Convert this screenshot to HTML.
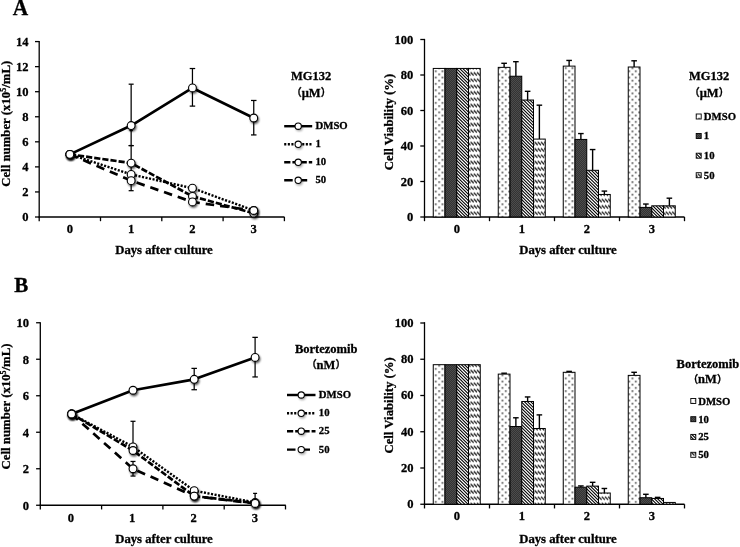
<!DOCTYPE html>
<html lang="en"><head><meta charset="utf-8"><title>Figure</title>
<style>
html,body{margin:0;padding:0;background:#fff;}
body{width:740px;height:547px;overflow:hidden;}
svg{display:block;}
svg text{font-family:"Liberation Serif","Noto Sans CJK JP",serif;font-weight:bold;fill:#000;stroke:#000;stroke-width:0.3px;}
</style></head><body>
<svg width="740" height="547" viewBox="0 0 740 547">
<defs>
<filter id="sh" x="-50%" y="-50%" width="200%" height="200%"><feGaussianBlur stdDeviation="0.9"/></filter>
<pattern id="p1" width="20" height="19" patternUnits="userSpaceOnUse" patternTransform="translate(1.4 0.4)"><rect width="20" height="19" fill="#fff"/><g fill="#000"><rect x="0.40" y="0.50" width="1.4" height="1.4"/><rect x="3.73" y="3.67" width="1.4" height="1.4"/><rect x="0.40" y="6.83" width="1.4" height="1.4"/><rect x="3.73" y="10.00" width="1.4" height="1.4"/><rect x="0.40" y="13.17" width="1.4" height="1.4"/><rect x="3.73" y="16.33" width="1.4" height="1.4"/><rect x="7.07" y="0.50" width="1.4" height="1.4"/><rect x="10.40" y="3.67" width="1.4" height="1.4"/><rect x="7.07" y="6.83" width="1.4" height="1.4"/><rect x="10.40" y="10.00" width="1.4" height="1.4"/><rect x="7.07" y="13.17" width="1.4" height="1.4"/><rect x="10.40" y="16.33" width="1.4" height="1.4"/><rect x="13.73" y="0.50" width="1.4" height="1.4"/><rect x="17.07" y="3.67" width="1.4" height="1.4"/><rect x="13.73" y="6.83" width="1.4" height="1.4"/><rect x="17.07" y="10.00" width="1.4" height="1.4"/><rect x="13.73" y="13.17" width="1.4" height="1.4"/><rect x="17.07" y="16.33" width="1.4" height="1.4"/></g></pattern>
<pattern id="p2" width="2" height="2" patternUnits="userSpaceOnUse"><rect width="2" height="2" fill="#333"/><rect width="1" height="1" fill="#4c4c4c"/><rect x="1" y="1" width="1" height="1" fill="#4c4c4c"/></pattern>
<pattern id="p3" width="16" height="19" patternUnits="userSpaceOnUse"><rect width="16" height="19" fill="#fff"/><path d="M-25.60,-3.17 L0.00,22.17 M-22.40,-3.17 L3.20,22.17 M-19.20,-3.17 L6.40,22.17 M-16.00,-3.17 L9.60,22.17 M-12.80,-3.17 L12.80,22.17 M-9.60,-3.17 L16.00,22.17 M-6.40,-3.17 L19.20,22.17 M-3.20,-3.17 L22.40,22.17 M0.00,-3.17 L25.60,22.17 M3.20,-3.17 L28.80,22.17 M6.40,-3.17 L32.00,22.17 M9.60,-3.17 L35.20,22.17 M12.80,-3.17 L38.40,22.17" stroke="#000" stroke-width="1.1" fill="none"/></pattern>
<pattern id="p4" width="16" height="19" patternUnits="userSpaceOnUse" patternTransform="translate(0 1.6)"><rect width="16" height="19" fill="#fff"/><path d="M-3.00,1.10 L0.10,4.20 M0.20,1.10 L3.30,4.20 M3.40,1.10 L6.50,4.20 M6.60,1.10 L9.70,4.20 M9.80,1.10 L12.90,4.20 M13.00,1.10 L16.10,4.20 M16.20,1.10 L19.30,4.20 M-3.00,7.43 L0.10,10.53 M0.20,7.43 L3.30,10.53 M3.40,7.43 L6.50,10.53 M6.60,7.43 L9.70,10.53 M9.80,7.43 L12.90,10.53 M13.00,7.43 L16.10,10.53 M16.20,7.43 L19.30,10.53 M-3.00,13.77 L0.10,16.87 M0.20,13.77 L3.30,16.87 M3.40,13.77 L6.50,16.87 M6.60,13.77 L9.70,16.87 M9.80,13.77 L12.90,16.87 M13.00,13.77 L16.10,16.87 M16.20,13.77 L19.30,16.87" stroke="#000" stroke-width="1.2" fill="none"/></pattern>
</defs>
<rect width="740" height="547" fill="#fff"/>

<text transform="translate(12.8 15.1) scale(0.93 1)" font-size="23" text-anchor="start">A</text>
<text transform="translate(14.2 291.5) scale(1.04 1)" font-size="20.2" text-anchor="start">B</text>
<line x1="39.20" y1="41.00" x2="39.20" y2="217.60" stroke="#000" stroke-width="1.3" />
<line x1="38.60" y1="217.00" x2="284.50" y2="217.00" stroke="#000" stroke-width="1.3" />
<line x1="35.00" y1="217.00" x2="39.20" y2="217.00" stroke="#000" stroke-width="1.3" />
<text transform="translate(28.6 221.40) scale(0.93 1)" font-size="13.5" text-anchor="end">0</text>
<line x1="35.00" y1="191.94" x2="39.20" y2="191.94" stroke="#000" stroke-width="1.3" />
<text transform="translate(28.6 196.34) scale(0.93 1)" font-size="13.5" text-anchor="end">2</text>
<line x1="35.00" y1="166.88" x2="39.20" y2="166.88" stroke="#000" stroke-width="1.3" />
<text transform="translate(28.6 171.28) scale(0.93 1)" font-size="13.5" text-anchor="end">4</text>
<line x1="35.00" y1="141.82" x2="39.20" y2="141.82" stroke="#000" stroke-width="1.3" />
<text transform="translate(28.6 146.22) scale(0.93 1)" font-size="13.5" text-anchor="end">6</text>
<line x1="35.00" y1="116.76" x2="39.20" y2="116.76" stroke="#000" stroke-width="1.3" />
<text transform="translate(28.6 121.16) scale(0.93 1)" font-size="13.5" text-anchor="end">8</text>
<line x1="35.00" y1="91.70" x2="39.20" y2="91.70" stroke="#000" stroke-width="1.3" />
<text transform="translate(28.6 96.10) scale(0.93 1)" font-size="13.5" text-anchor="end">10</text>
<line x1="35.00" y1="66.64" x2="39.20" y2="66.64" stroke="#000" stroke-width="1.3" />
<text transform="translate(28.6 71.04) scale(0.93 1)" font-size="13.5" text-anchor="end">12</text>
<line x1="35.00" y1="41.58" x2="39.20" y2="41.58" stroke="#000" stroke-width="1.3" />
<text transform="translate(28.6 45.98) scale(0.93 1)" font-size="13.5" text-anchor="end">14</text>
<line x1="39.20" y1="217.00" x2="39.20" y2="221.20" stroke="#000" stroke-width="1.3" />
<line x1="100.50" y1="217.00" x2="100.50" y2="221.20" stroke="#000" stroke-width="1.3" />
<line x1="161.80" y1="217.00" x2="161.80" y2="221.20" stroke="#000" stroke-width="1.3" />
<line x1="223.10" y1="217.00" x2="223.10" y2="221.20" stroke="#000" stroke-width="1.3" />
<line x1="284.40" y1="217.00" x2="284.40" y2="221.20" stroke="#000" stroke-width="1.3" />
<text transform="translate(69.85 233.4) scale(0.93 1)" font-size="13.5" text-anchor="middle">0</text>
<text transform="translate(131.15 233.4) scale(0.93 1)" font-size="13.5" text-anchor="middle">1</text>
<text transform="translate(192.45 233.4) scale(0.93 1)" font-size="13.5" text-anchor="middle">2</text>
<text transform="translate(253.75 233.4) scale(0.93 1)" font-size="13.5" text-anchor="middle">3</text>
<line x1="131.15" y1="84.18" x2="131.15" y2="190.69" stroke="#000" stroke-width="1.25" />
<line x1="128.65" y1="84.18" x2="133.65" y2="84.18" stroke="#000" stroke-width="1.25" />
<line x1="128.65" y1="190.69" x2="133.65" y2="190.69" stroke="#000" stroke-width="1.25" />
<line x1="131.15" y1="145.58" x2="131.15" y2="145.58" stroke="#000" stroke-width="1.25" />
<line x1="128.65" y1="145.58" x2="133.65" y2="145.58" stroke="#000" stroke-width="1.25" />
<line x1="128.65" y1="145.58" x2="133.65" y2="145.58" stroke="#000" stroke-width="1.25" />
<line x1="131.15" y1="130.54" x2="131.15" y2="130.54" stroke="#000" stroke-width="1.25" />
<line x1="129.65" y1="130.54" x2="132.65" y2="130.54" stroke="#000" stroke-width="1.25" />
<line x1="129.65" y1="130.54" x2="132.65" y2="130.54" stroke="#000" stroke-width="1.25" />
<line x1="192.45" y1="68.52" x2="192.45" y2="106.11" stroke="#000" stroke-width="1.25" />
<line x1="189.70" y1="68.52" x2="195.20" y2="68.52" stroke="#000" stroke-width="1.25" />
<line x1="189.70" y1="106.11" x2="195.20" y2="106.11" stroke="#000" stroke-width="1.25" />
<line x1="253.75" y1="100.47" x2="253.75" y2="134.93" stroke="#000" stroke-width="1.25" />
<line x1="251.00" y1="100.47" x2="256.50" y2="100.47" stroke="#000" stroke-width="1.25" />
<line x1="251.00" y1="134.93" x2="256.50" y2="134.93" stroke="#000" stroke-width="1.25" />
<polyline points="69.85,154.35 131.15,174.40 192.45,188.18 253.75,210.48" fill="none" stroke="#000" stroke-width="2.4" stroke-linejoin="round" stroke-dasharray="2.1 1.5"/>
<polyline points="69.85,154.35 131.15,163.12 192.45,196.33 253.75,213.24" fill="none" stroke="#000" stroke-width="2.7" stroke-linejoin="round" stroke-dasharray="6.2 2"/>
<polyline points="69.85,154.35 131.15,180.66 192.45,201.96 253.75,210.48" fill="none" stroke="#000" stroke-width="2.7" stroke-linejoin="round" stroke-dasharray="8.5 6"/>
<polyline points="69.85,154.35 131.15,125.53 192.45,87.94 253.75,118.01" fill="none" stroke="#000" stroke-width="2.7" stroke-linejoin="round" />
<circle cx="70.85" cy="155.95" r="4.3" fill="#000" opacity="0.7" filter="url(#sh)"/>
<circle cx="69.85" cy="154.35" r="3.9" fill="#fff" stroke="#000" stroke-width="1.1"/>
<circle cx="132.15" cy="176.00" r="4.3" fill="#000" opacity="0.7" filter="url(#sh)"/>
<circle cx="131.15" cy="174.40" r="3.9" fill="#fff" stroke="#000" stroke-width="1.1"/>
<circle cx="193.45" cy="189.78" r="4.3" fill="#000" opacity="0.7" filter="url(#sh)"/>
<circle cx="192.45" cy="188.18" r="3.9" fill="#fff" stroke="#000" stroke-width="1.1"/>
<circle cx="254.75" cy="212.08" r="4.3" fill="#000" opacity="0.7" filter="url(#sh)"/>
<circle cx="253.75" cy="210.48" r="3.9" fill="#fff" stroke="#000" stroke-width="1.1"/>
<circle cx="70.85" cy="155.95" r="4.3" fill="#000" opacity="0.7" filter="url(#sh)"/>
<circle cx="69.85" cy="154.35" r="3.9" fill="#fff" stroke="#000" stroke-width="1.1"/>
<circle cx="132.15" cy="164.72" r="4.3" fill="#000" opacity="0.7" filter="url(#sh)"/>
<circle cx="131.15" cy="163.12" r="3.9" fill="#fff" stroke="#000" stroke-width="1.1"/>
<circle cx="193.45" cy="197.93" r="4.3" fill="#000" opacity="0.7" filter="url(#sh)"/>
<circle cx="192.45" cy="196.33" r="3.9" fill="#fff" stroke="#000" stroke-width="1.1"/>
<circle cx="254.75" cy="214.84" r="4.3" fill="#000" opacity="0.7" filter="url(#sh)"/>
<circle cx="253.75" cy="213.24" r="3.9" fill="#fff" stroke="#000" stroke-width="1.1"/>
<circle cx="70.85" cy="155.95" r="4.3" fill="#000" opacity="0.7" filter="url(#sh)"/>
<circle cx="69.85" cy="154.35" r="3.9" fill="#fff" stroke="#000" stroke-width="1.1"/>
<circle cx="132.15" cy="182.26" r="4.3" fill="#000" opacity="0.7" filter="url(#sh)"/>
<circle cx="131.15" cy="180.66" r="3.9" fill="#fff" stroke="#000" stroke-width="1.1"/>
<circle cx="193.45" cy="203.56" r="4.3" fill="#000" opacity="0.7" filter="url(#sh)"/>
<circle cx="192.45" cy="201.96" r="3.9" fill="#fff" stroke="#000" stroke-width="1.1"/>
<circle cx="254.75" cy="212.08" r="4.3" fill="#000" opacity="0.7" filter="url(#sh)"/>
<circle cx="253.75" cy="210.48" r="3.9" fill="#fff" stroke="#000" stroke-width="1.1"/>
<circle cx="70.85" cy="155.95" r="4.3" fill="#000" opacity="0.7" filter="url(#sh)"/>
<circle cx="69.85" cy="154.35" r="3.9" fill="#fff" stroke="#000" stroke-width="1.1"/>
<circle cx="132.15" cy="127.13" r="4.3" fill="#000" opacity="0.7" filter="url(#sh)"/>
<circle cx="131.15" cy="125.53" r="3.9" fill="#fff" stroke="#000" stroke-width="1.1"/>
<circle cx="193.45" cy="89.54" r="4.3" fill="#000" opacity="0.7" filter="url(#sh)"/>
<circle cx="192.45" cy="87.94" r="3.9" fill="#fff" stroke="#000" stroke-width="1.1"/>
<circle cx="254.75" cy="119.61" r="4.3" fill="#000" opacity="0.7" filter="url(#sh)"/>
<circle cx="253.75" cy="118.01" r="3.9" fill="#fff" stroke="#000" stroke-width="1.1"/>
<line x1="284.2" y1="126.2" x2="312.2" y2="126.2" stroke="#000" stroke-width="2.45" />
<circle cx="299.20" cy="127.80" r="3.55" fill="#000" opacity="0.35" filter="url(#sh)"/>
<circle cx="298.20" cy="126.20" r="3.15" fill="#fff" stroke="#000" stroke-width="1.1"/>
<text transform="translate(315.5 129.3) scale(0.95 1)" font-size="11.3" text-anchor="start">DMSO</text>
<line x1="284.2" y1="144.3" x2="312.2" y2="144.3" stroke="#000" stroke-width="2.45" stroke-dasharray="2.1 1.5"/>
<circle cx="299.20" cy="145.90" r="3.55" fill="#000" opacity="0.35" filter="url(#sh)"/>
<circle cx="298.20" cy="144.30" r="3.15" fill="#fff" stroke="#000" stroke-width="1.1"/>
<text transform="translate(315.5 147.4) scale(0.95 1)" font-size="11.3" text-anchor="start">1</text>
<line x1="284.2" y1="162.3" x2="312.2" y2="162.3" stroke="#000" stroke-width="2.45" stroke-dasharray="6.2 2"/>
<circle cx="299.20" cy="163.90" r="3.55" fill="#000" opacity="0.35" filter="url(#sh)"/>
<circle cx="298.20" cy="162.30" r="3.15" fill="#fff" stroke="#000" stroke-width="1.1"/>
<text transform="translate(315.5 165.4) scale(0.95 1)" font-size="11.3" text-anchor="start">10</text>
<line x1="284.2" y1="180.3" x2="312.2" y2="180.3" stroke="#000" stroke-width="2.45" stroke-dasharray="8.5 6"/>
<circle cx="299.20" cy="181.90" r="3.55" fill="#000" opacity="0.35" filter="url(#sh)"/>
<circle cx="298.20" cy="180.30" r="3.15" fill="#fff" stroke="#000" stroke-width="1.1"/>
<text transform="translate(315.5 183.4) scale(0.95 1)" font-size="11.3" text-anchor="start">50</text>
<text transform="translate(9.6 123.8) rotate(-90)" font-size="12.6" text-anchor="middle" textLength="126" lengthAdjust="spacingAndGlyphs">Cell number (x10<tspan font-size="7.8" dy="-3.6">5</tspan><tspan dy="3.6">/mL)</tspan></text>
<text x="164" y="253.6" font-size="12.6" text-anchor="middle" textLength="97.5" lengthAdjust="spacingAndGlyphs">Days after culture</text>
<text transform="translate(311.2 80.3) scale(0.95 1)" font-size="13.2" text-anchor="middle">MG132</text>
<text transform="translate(311.2 96.6) scale(0.95 1)" font-size="13.2" text-anchor="middle"><tspan font-size="10.5" dy="-0.6">（</tspan><tspan dy="0.6">μM</tspan><tspan font-size="10.5" dy="-0.6">）</tspan></text>
<line x1="40.30" y1="322.15" x2="40.30" y2="505.85" stroke="#000" stroke-width="1.3" />
<line x1="39.70" y1="505.25" x2="285.80" y2="505.25" stroke="#000" stroke-width="1.3" />
<line x1="36.10" y1="505.25" x2="40.30" y2="505.25" stroke="#000" stroke-width="1.3" />
<text transform="translate(29 509.65) scale(0.93 1)" font-size="13.5" text-anchor="end">0</text>
<line x1="36.10" y1="468.75" x2="40.30" y2="468.75" stroke="#000" stroke-width="1.3" />
<text transform="translate(29 473.15) scale(0.93 1)" font-size="13.5" text-anchor="end">2</text>
<line x1="36.10" y1="432.25" x2="40.30" y2="432.25" stroke="#000" stroke-width="1.3" />
<text transform="translate(29 436.65) scale(0.93 1)" font-size="13.5" text-anchor="end">4</text>
<line x1="36.10" y1="395.75" x2="40.30" y2="395.75" stroke="#000" stroke-width="1.3" />
<text transform="translate(29 400.15) scale(0.93 1)" font-size="13.5" text-anchor="end">6</text>
<line x1="36.10" y1="359.25" x2="40.30" y2="359.25" stroke="#000" stroke-width="1.3" />
<text transform="translate(29 363.65) scale(0.93 1)" font-size="13.5" text-anchor="end">8</text>
<line x1="36.10" y1="322.75" x2="40.30" y2="322.75" stroke="#000" stroke-width="1.3" />
<text transform="translate(29 327.15) scale(0.93 1)" font-size="13.5" text-anchor="end">10</text>
<line x1="40.30" y1="505.25" x2="40.30" y2="509.45" stroke="#000" stroke-width="1.3" />
<line x1="101.60" y1="505.25" x2="101.60" y2="509.45" stroke="#000" stroke-width="1.3" />
<line x1="162.90" y1="505.25" x2="162.90" y2="509.45" stroke="#000" stroke-width="1.3" />
<line x1="224.20" y1="505.25" x2="224.20" y2="509.45" stroke="#000" stroke-width="1.3" />
<line x1="285.50" y1="505.25" x2="285.50" y2="509.45" stroke="#000" stroke-width="1.3" />
<text transform="translate(70.95 521.75) scale(0.93 1)" font-size="13.5" text-anchor="middle">0</text>
<text transform="translate(132.25 521.75) scale(0.93 1)" font-size="13.5" text-anchor="middle">1</text>
<text transform="translate(193.55 521.75) scale(0.93 1)" font-size="13.5" text-anchor="middle">2</text>
<text transform="translate(254.85 521.75) scale(0.93 1)" font-size="13.5" text-anchor="middle">3</text>
<line x1="133.00" y1="421.30" x2="133.00" y2="446.85" stroke="#000" stroke-width="1.25" />
<line x1="130.50" y1="421.30" x2="135.50" y2="421.30" stroke="#000" stroke-width="1.25" />
<line x1="130.50" y1="446.85" x2="135.50" y2="446.85" stroke="#000" stroke-width="1.25" />
<line x1="133.00" y1="461.45" x2="133.00" y2="476.05" stroke="#000" stroke-width="1.25" />
<line x1="130.50" y1="461.45" x2="135.50" y2="461.45" stroke="#000" stroke-width="1.25" />
<line x1="130.50" y1="476.05" x2="135.50" y2="476.05" stroke="#000" stroke-width="1.25" />
<line x1="194.20" y1="368.38" x2="194.20" y2="389.73" stroke="#000" stroke-width="1.25" />
<line x1="191.45" y1="368.38" x2="196.95" y2="368.38" stroke="#000" stroke-width="1.25" />
<line x1="191.45" y1="389.73" x2="196.95" y2="389.73" stroke="#000" stroke-width="1.25" />
<line x1="255.10" y1="337.35" x2="255.10" y2="376.95" stroke="#000" stroke-width="1.25" />
<line x1="252.35" y1="337.35" x2="257.85" y2="337.35" stroke="#000" stroke-width="1.25" />
<line x1="252.35" y1="376.95" x2="257.85" y2="376.95" stroke="#000" stroke-width="1.25" />
<line x1="255.10" y1="493.39" x2="255.10" y2="503.43" stroke="#000" stroke-width="1.25" />
<line x1="253.10" y1="493.39" x2="257.10" y2="493.39" stroke="#000" stroke-width="1.25" />
<line x1="253.10" y1="503.43" x2="257.10" y2="503.43" stroke="#000" stroke-width="1.25" />
<polyline points="71.60,414.00 133.00,446.85 194.20,490.65 255.10,502.51" fill="none" stroke="#000" stroke-width="2.4" stroke-linejoin="round" stroke-dasharray="2.1 1.5"/>
<polyline points="71.60,414.00 133.00,450.50 194.20,496.12 255.10,503.06" fill="none" stroke="#000" stroke-width="2.7" stroke-linejoin="round" stroke-dasharray="6.2 2"/>
<polyline points="71.60,414.00 133.00,468.75 194.20,496.12 255.10,503.43" fill="none" stroke="#000" stroke-width="2.7" stroke-linejoin="round" stroke-dasharray="8.5 6"/>
<polyline points="71.60,414.00 133.00,390.27 194.20,379.32 255.10,357.43" fill="none" stroke="#000" stroke-width="2.7" stroke-linejoin="round" />
<circle cx="72.60" cy="415.60" r="4.3" fill="#000" opacity="0.7" filter="url(#sh)"/>
<circle cx="71.60" cy="414.00" r="3.9" fill="#fff" stroke="#000" stroke-width="1.1"/>
<circle cx="134.00" cy="448.45" r="4.3" fill="#000" opacity="0.7" filter="url(#sh)"/>
<circle cx="133.00" cy="446.85" r="3.9" fill="#fff" stroke="#000" stroke-width="1.1"/>
<circle cx="195.20" cy="492.25" r="4.3" fill="#000" opacity="0.7" filter="url(#sh)"/>
<circle cx="194.20" cy="490.65" r="3.9" fill="#fff" stroke="#000" stroke-width="1.1"/>
<circle cx="256.10" cy="504.11" r="4.3" fill="#000" opacity="0.7" filter="url(#sh)"/>
<circle cx="255.10" cy="502.51" r="3.9" fill="#fff" stroke="#000" stroke-width="1.1"/>
<circle cx="72.60" cy="415.60" r="4.3" fill="#000" opacity="0.7" filter="url(#sh)"/>
<circle cx="71.60" cy="414.00" r="3.9" fill="#fff" stroke="#000" stroke-width="1.1"/>
<circle cx="134.00" cy="452.10" r="4.3" fill="#000" opacity="0.7" filter="url(#sh)"/>
<circle cx="133.00" cy="450.50" r="3.9" fill="#fff" stroke="#000" stroke-width="1.1"/>
<circle cx="195.20" cy="497.73" r="4.3" fill="#000" opacity="0.7" filter="url(#sh)"/>
<circle cx="194.20" cy="496.12" r="3.9" fill="#fff" stroke="#000" stroke-width="1.1"/>
<circle cx="256.10" cy="504.66" r="4.3" fill="#000" opacity="0.7" filter="url(#sh)"/>
<circle cx="255.10" cy="503.06" r="3.9" fill="#fff" stroke="#000" stroke-width="1.1"/>
<circle cx="72.60" cy="415.60" r="4.3" fill="#000" opacity="0.7" filter="url(#sh)"/>
<circle cx="71.60" cy="414.00" r="3.9" fill="#fff" stroke="#000" stroke-width="1.1"/>
<circle cx="134.00" cy="470.35" r="4.3" fill="#000" opacity="0.7" filter="url(#sh)"/>
<circle cx="133.00" cy="468.75" r="3.9" fill="#fff" stroke="#000" stroke-width="1.1"/>
<circle cx="195.20" cy="497.73" r="4.3" fill="#000" opacity="0.7" filter="url(#sh)"/>
<circle cx="194.20" cy="496.12" r="3.9" fill="#fff" stroke="#000" stroke-width="1.1"/>
<circle cx="256.10" cy="505.03" r="4.3" fill="#000" opacity="0.7" filter="url(#sh)"/>
<circle cx="255.10" cy="503.43" r="3.9" fill="#fff" stroke="#000" stroke-width="1.1"/>
<circle cx="72.60" cy="415.60" r="4.3" fill="#000" opacity="0.7" filter="url(#sh)"/>
<circle cx="71.60" cy="414.00" r="3.9" fill="#fff" stroke="#000" stroke-width="1.1"/>
<circle cx="134.00" cy="391.88" r="4.3" fill="#000" opacity="0.7" filter="url(#sh)"/>
<circle cx="133.00" cy="390.27" r="3.9" fill="#fff" stroke="#000" stroke-width="1.1"/>
<circle cx="195.20" cy="380.93" r="4.3" fill="#000" opacity="0.7" filter="url(#sh)"/>
<circle cx="194.20" cy="379.32" r="3.9" fill="#fff" stroke="#000" stroke-width="1.1"/>
<circle cx="256.10" cy="359.03" r="4.3" fill="#000" opacity="0.7" filter="url(#sh)"/>
<circle cx="255.10" cy="357.43" r="3.9" fill="#fff" stroke="#000" stroke-width="1.1"/>
<line x1="287" y1="395" x2="315.5" y2="395" stroke="#000" stroke-width="2.45" />
<circle cx="302.25" cy="396.60" r="3.55" fill="#000" opacity="0.35" filter="url(#sh)"/>
<circle cx="301.25" cy="395.00" r="3.15" fill="#fff" stroke="#000" stroke-width="1.1"/>
<text transform="translate(318.8 398.1) scale(0.95 1)" font-size="11.3" text-anchor="start">DMSO</text>
<line x1="287" y1="413.3" x2="315.5" y2="413.3" stroke="#000" stroke-width="2.45" stroke-dasharray="2.1 1.5"/>
<circle cx="302.25" cy="414.90" r="3.55" fill="#000" opacity="0.35" filter="url(#sh)"/>
<circle cx="301.25" cy="413.30" r="3.15" fill="#fff" stroke="#000" stroke-width="1.1"/>
<text transform="translate(318.8 416.40000000000003) scale(0.95 1)" font-size="11.3" text-anchor="start">10</text>
<line x1="287" y1="431.2" x2="315.5" y2="431.2" stroke="#000" stroke-width="2.45" stroke-dasharray="6.2 2"/>
<circle cx="302.25" cy="432.80" r="3.55" fill="#000" opacity="0.35" filter="url(#sh)"/>
<circle cx="301.25" cy="431.20" r="3.15" fill="#fff" stroke="#000" stroke-width="1.1"/>
<text transform="translate(318.8 434.3) scale(0.95 1)" font-size="11.3" text-anchor="start">25</text>
<line x1="287" y1="449.6" x2="315.5" y2="449.6" stroke="#000" stroke-width="2.45" stroke-dasharray="8.5 6"/>
<circle cx="302.25" cy="451.20" r="3.55" fill="#000" opacity="0.35" filter="url(#sh)"/>
<circle cx="301.25" cy="449.60" r="3.15" fill="#fff" stroke="#000" stroke-width="1.1"/>
<text transform="translate(318.8 452.70000000000005) scale(0.95 1)" font-size="11.3" text-anchor="start">50</text>
<text transform="translate(9.6 406.4) rotate(-90)" font-size="12.6" text-anchor="middle" textLength="126" lengthAdjust="spacingAndGlyphs">Cell number (x10<tspan font-size="7.8" dy="-3.6">5</tspan><tspan dy="3.6">/mL)</tspan></text>
<text x="164" y="543.3" font-size="12.6" text-anchor="middle" textLength="97.5" lengthAdjust="spacingAndGlyphs">Days after culture</text>
<text transform="translate(326.2 353.1) scale(0.95 1)" font-size="13.2" text-anchor="middle">Bortezomib</text>
<text transform="translate(326 368.7) scale(0.95 1)" font-size="13.2" text-anchor="middle"><tspan font-size="10.5" dy="-0.6">（</tspan><tspan dy="0.6">nM</tspan><tspan font-size="10.5" dy="-0.6">）</tspan></text>
<line x1="424.50" y1="38.90" x2="424.50" y2="217.60" stroke="#000" stroke-width="1.3" />
<line x1="423.90" y1="217.00" x2="684.50" y2="217.00" stroke="#000" stroke-width="1.3" />
<line x1="420.30" y1="217.00" x2="424.50" y2="217.00" stroke="#000" stroke-width="1.3" />
<text transform="translate(413.3 221.10) scale(0.93 1)" font-size="13.5" text-anchor="end">0</text>
<line x1="420.30" y1="181.50" x2="424.50" y2="181.50" stroke="#000" stroke-width="1.3" />
<text transform="translate(413.3 185.60) scale(0.93 1)" font-size="13.5" text-anchor="end">20</text>
<line x1="420.30" y1="146.00" x2="424.50" y2="146.00" stroke="#000" stroke-width="1.3" />
<text transform="translate(413.3 150.10) scale(0.93 1)" font-size="13.5" text-anchor="end">40</text>
<line x1="420.30" y1="110.50" x2="424.50" y2="110.50" stroke="#000" stroke-width="1.3" />
<text transform="translate(413.3 114.60) scale(0.93 1)" font-size="13.5" text-anchor="end">60</text>
<line x1="420.30" y1="75.00" x2="424.50" y2="75.00" stroke="#000" stroke-width="1.3" />
<text transform="translate(413.3 79.10) scale(0.93 1)" font-size="13.5" text-anchor="end">80</text>
<line x1="420.30" y1="39.50" x2="424.50" y2="39.50" stroke="#000" stroke-width="1.3" />
<text transform="translate(413.3 43.60) scale(0.93 1)" font-size="13.5" text-anchor="end">100</text>
<line x1="424.50" y1="217.00" x2="424.50" y2="221.20" stroke="#000" stroke-width="1.3" />
<line x1="489.50" y1="217.00" x2="489.50" y2="221.20" stroke="#000" stroke-width="1.3" />
<line x1="554.50" y1="217.00" x2="554.50" y2="221.20" stroke="#000" stroke-width="1.3" />
<line x1="619.50" y1="217.00" x2="619.50" y2="221.20" stroke="#000" stroke-width="1.3" />
<line x1="684.50" y1="217.00" x2="684.50" y2="221.20" stroke="#000" stroke-width="1.3" />
<text transform="translate(457.00 232.7) scale(0.93 1)" font-size="13.5" text-anchor="middle">0</text>
<text transform="translate(522.00 232.7) scale(0.93 1)" font-size="13.5" text-anchor="middle">1</text>
<text transform="translate(587.00 232.7) scale(0.93 1)" font-size="13.5" text-anchor="middle">2</text>
<text transform="translate(652.00 232.7) scale(0.93 1)" font-size="13.5" text-anchor="middle">3</text>
<rect x="433.25" y="68.43" width="11.75" height="148.57" fill="url(#p1)" stroke="#000" stroke-width="1"/>
<rect x="445.00" y="68.43" width="11.75" height="148.57" fill="url(#p2)" stroke="#000" stroke-width="1"/>
<rect x="456.75" y="68.43" width="11.75" height="148.57" fill="url(#p3)" stroke="#000" stroke-width="1"/>
<rect x="468.50" y="68.43" width="11.75" height="148.57" fill="url(#p4)" stroke="#000" stroke-width="1"/>
<line x1="504.12" y1="63.29" x2="504.12" y2="67.37" stroke="#000" stroke-width="1.4" />
<line x1="501.32" y1="63.29" x2="506.93" y2="63.29" stroke="#000" stroke-width="1.4" />
<rect x="498.25" y="67.37" width="11.75" height="149.63" fill="url(#p1)" stroke="#000" stroke-width="1"/>
<line x1="515.88" y1="61.69" x2="515.88" y2="76.24" stroke="#000" stroke-width="1.4" />
<line x1="513.08" y1="61.69" x2="518.67" y2="61.69" stroke="#000" stroke-width="1.4" />
<rect x="510.00" y="76.24" width="11.75" height="140.76" fill="url(#p2)" stroke="#000" stroke-width="1"/>
<line x1="527.62" y1="91.33" x2="527.62" y2="100.03" stroke="#000" stroke-width="1.4" />
<line x1="524.83" y1="91.33" x2="530.42" y2="91.33" stroke="#000" stroke-width="1.4" />
<rect x="521.75" y="100.03" width="11.75" height="116.97" fill="url(#p3)" stroke="#000" stroke-width="1"/>
<line x1="539.38" y1="105.18" x2="539.38" y2="139.08" stroke="#000" stroke-width="1.4" />
<line x1="536.58" y1="105.18" x2="542.17" y2="105.18" stroke="#000" stroke-width="1.4" />
<rect x="533.50" y="139.08" width="11.75" height="77.92" fill="url(#p4)" stroke="#000" stroke-width="1"/>
<line x1="569.12" y1="60.44" x2="569.12" y2="66.12" stroke="#000" stroke-width="1.4" />
<line x1="566.33" y1="60.44" x2="571.92" y2="60.44" stroke="#000" stroke-width="1.4" />
<rect x="563.25" y="66.12" width="11.75" height="150.88" fill="url(#p1)" stroke="#000" stroke-width="1"/>
<line x1="580.88" y1="133.57" x2="580.88" y2="139.43" stroke="#000" stroke-width="1.4" />
<line x1="578.08" y1="133.57" x2="583.67" y2="133.57" stroke="#000" stroke-width="1.4" />
<rect x="575.00" y="139.43" width="11.75" height="77.57" fill="url(#p2)" stroke="#000" stroke-width="1"/>
<line x1="592.62" y1="149.55" x2="592.62" y2="170.32" stroke="#000" stroke-width="1.4" />
<line x1="589.83" y1="149.55" x2="595.42" y2="149.55" stroke="#000" stroke-width="1.4" />
<rect x="586.75" y="170.32" width="11.75" height="46.68" fill="url(#p3)" stroke="#000" stroke-width="1"/>
<line x1="604.38" y1="191.09" x2="604.38" y2="194.46" stroke="#000" stroke-width="1.4" />
<line x1="601.58" y1="191.09" x2="607.17" y2="191.09" stroke="#000" stroke-width="1.4" />
<rect x="598.50" y="194.46" width="11.75" height="22.54" fill="url(#p4)" stroke="#000" stroke-width="1"/>
<line x1="634.12" y1="60.80" x2="634.12" y2="67.01" stroke="#000" stroke-width="1.4" />
<line x1="631.33" y1="60.80" x2="636.92" y2="60.80" stroke="#000" stroke-width="1.4" />
<rect x="628.25" y="67.01" width="11.75" height="149.99" fill="url(#p1)" stroke="#000" stroke-width="1"/>
<line x1="645.88" y1="204.04" x2="645.88" y2="207.41" stroke="#000" stroke-width="1.4" />
<line x1="643.08" y1="204.04" x2="648.67" y2="204.04" stroke="#000" stroke-width="1.4" />
<rect x="640.00" y="207.41" width="11.75" height="9.59" fill="url(#p2)" stroke="#000" stroke-width="1"/>
<rect x="651.75" y="205.82" width="11.75" height="11.18" fill="url(#p3)" stroke="#000" stroke-width="1"/>
<line x1="669.38" y1="198.19" x2="669.38" y2="205.82" stroke="#000" stroke-width="1.4" />
<line x1="666.58" y1="198.19" x2="672.17" y2="198.19" stroke="#000" stroke-width="1.4" />
<rect x="663.50" y="205.82" width="11.75" height="11.18" fill="url(#p4)" stroke="#000" stroke-width="1"/>
<rect x="696.2" y="114.0" width="5.0" height="5.0" fill="url(#p1)" stroke="#000" stroke-width="0.9"/>
<text transform="translate(703.8 119.9) scale(0.95 1)" font-size="11.3" text-anchor="start">DMSO</text>
<rect x="696.2" y="133.5" width="5.0" height="5.0" fill="url(#p2)" stroke="#000" stroke-width="0.9"/>
<text transform="translate(703.8 139.4) scale(0.95 1)" font-size="11.3" text-anchor="start">1</text>
<rect x="696.2" y="153.2" width="5.0" height="5.0" fill="url(#p3)" stroke="#000" stroke-width="0.9"/>
<text transform="translate(703.8 159.1) scale(0.95 1)" font-size="11.3" text-anchor="start">10</text>
<rect x="696.2" y="172.7" width="5.0" height="5.0" fill="url(#p4)" stroke="#000" stroke-width="0.9"/>
<text transform="translate(703.8 178.6) scale(0.95 1)" font-size="11.3" text-anchor="start">50</text>
<text transform="translate(392.9 122) rotate(-90)" font-size="12.9" text-anchor="middle" textLength="96.4" lengthAdjust="spacingAndGlyphs">Cell Viability (%)</text>
<text x="568" y="253.6" font-size="12.6" text-anchor="middle" textLength="97.5" lengthAdjust="spacingAndGlyphs">Days after culture</text>
<text transform="translate(709.2 80.3) scale(0.95 1)" font-size="13.2" text-anchor="middle">MG132</text>
<text transform="translate(709.2 96.6) scale(0.95 1)" font-size="13.2" text-anchor="middle"><tspan font-size="10.5" dy="-0.6">（</tspan><tspan dy="0.6">μM</tspan><tspan font-size="10.5" dy="-0.6">）</tspan></text>
<line x1="424.50" y1="322.15" x2="424.50" y2="504.85" stroke="#000" stroke-width="1.3" />
<line x1="423.90" y1="504.25" x2="684.50" y2="504.25" stroke="#000" stroke-width="1.3" />
<line x1="420.30" y1="504.25" x2="424.50" y2="504.25" stroke="#000" stroke-width="1.3" />
<text transform="translate(413.6 508.15) scale(0.93 1)" font-size="13.5" text-anchor="end">0</text>
<line x1="420.30" y1="468.00" x2="424.50" y2="468.00" stroke="#000" stroke-width="1.3" />
<text transform="translate(413.6 471.90) scale(0.93 1)" font-size="13.5" text-anchor="end">20</text>
<line x1="420.30" y1="431.75" x2="424.50" y2="431.75" stroke="#000" stroke-width="1.3" />
<text transform="translate(413.6 435.65) scale(0.93 1)" font-size="13.5" text-anchor="end">40</text>
<line x1="420.30" y1="395.50" x2="424.50" y2="395.50" stroke="#000" stroke-width="1.3" />
<text transform="translate(413.6 399.40) scale(0.93 1)" font-size="13.5" text-anchor="end">60</text>
<line x1="420.30" y1="359.25" x2="424.50" y2="359.25" stroke="#000" stroke-width="1.3" />
<text transform="translate(413.6 363.15) scale(0.93 1)" font-size="13.5" text-anchor="end">80</text>
<line x1="420.30" y1="323.00" x2="424.50" y2="323.00" stroke="#000" stroke-width="1.3" />
<text transform="translate(413.6 326.90) scale(0.93 1)" font-size="13.5" text-anchor="end">100</text>
<line x1="424.50" y1="504.25" x2="424.50" y2="508.45" stroke="#000" stroke-width="1.3" />
<line x1="489.50" y1="504.25" x2="489.50" y2="508.45" stroke="#000" stroke-width="1.3" />
<line x1="554.50" y1="504.25" x2="554.50" y2="508.45" stroke="#000" stroke-width="1.3" />
<line x1="619.50" y1="504.25" x2="619.50" y2="508.45" stroke="#000" stroke-width="1.3" />
<line x1="684.50" y1="504.25" x2="684.50" y2="508.45" stroke="#000" stroke-width="1.3" />
<text transform="translate(457.00 519.95) scale(0.93 1)" font-size="13.5" text-anchor="middle">0</text>
<text transform="translate(522.00 519.95) scale(0.93 1)" font-size="13.5" text-anchor="middle">1</text>
<text transform="translate(587.00 519.95) scale(0.93 1)" font-size="13.5" text-anchor="middle">2</text>
<text transform="translate(652.00 519.95) scale(0.93 1)" font-size="13.5" text-anchor="middle">3</text>
<rect x="433.25" y="364.69" width="11.75" height="139.56" fill="url(#p1)" stroke="#000" stroke-width="1"/>
<rect x="445.00" y="364.69" width="11.75" height="139.56" fill="url(#p2)" stroke="#000" stroke-width="1"/>
<rect x="456.75" y="364.69" width="11.75" height="139.56" fill="url(#p3)" stroke="#000" stroke-width="1"/>
<rect x="468.50" y="364.69" width="11.75" height="139.56" fill="url(#p4)" stroke="#000" stroke-width="1"/>
<line x1="504.12" y1="373.21" x2="504.12" y2="374.11" stroke="#000" stroke-width="1.4" />
<line x1="501.32" y1="373.21" x2="506.93" y2="373.21" stroke="#000" stroke-width="1.4" />
<rect x="498.25" y="374.11" width="11.75" height="130.14" fill="url(#p1)" stroke="#000" stroke-width="1"/>
<line x1="515.88" y1="417.79" x2="515.88" y2="426.49" stroke="#000" stroke-width="1.4" />
<line x1="513.08" y1="417.79" x2="518.67" y2="417.79" stroke="#000" stroke-width="1.4" />
<rect x="510.00" y="426.49" width="11.75" height="77.76" fill="url(#p2)" stroke="#000" stroke-width="1"/>
<line x1="527.62" y1="396.95" x2="527.62" y2="401.48" stroke="#000" stroke-width="1.4" />
<line x1="524.83" y1="396.95" x2="530.42" y2="396.95" stroke="#000" stroke-width="1.4" />
<rect x="521.75" y="401.48" width="11.75" height="102.77" fill="url(#p3)" stroke="#000" stroke-width="1"/>
<line x1="539.38" y1="414.89" x2="539.38" y2="428.49" stroke="#000" stroke-width="1.4" />
<line x1="536.58" y1="414.89" x2="542.17" y2="414.89" stroke="#000" stroke-width="1.4" />
<rect x="533.50" y="428.49" width="11.75" height="75.76" fill="url(#p4)" stroke="#000" stroke-width="1"/>
<line x1="569.12" y1="371.39" x2="569.12" y2="372.30" stroke="#000" stroke-width="1.4" />
<line x1="566.33" y1="371.39" x2="571.92" y2="371.39" stroke="#000" stroke-width="1.4" />
<rect x="563.25" y="372.30" width="11.75" height="131.95" fill="url(#p1)" stroke="#000" stroke-width="1"/>
<line x1="580.88" y1="485.94" x2="580.88" y2="487.21" stroke="#000" stroke-width="1.4" />
<line x1="578.08" y1="485.94" x2="583.67" y2="485.94" stroke="#000" stroke-width="1.4" />
<rect x="575.00" y="487.21" width="11.75" height="17.04" fill="url(#p2)" stroke="#000" stroke-width="1"/>
<line x1="592.62" y1="482.32" x2="592.62" y2="486.12" stroke="#000" stroke-width="1.4" />
<line x1="589.83" y1="482.32" x2="595.42" y2="482.32" stroke="#000" stroke-width="1.4" />
<rect x="586.75" y="486.12" width="11.75" height="18.12" fill="url(#p3)" stroke="#000" stroke-width="1"/>
<line x1="604.38" y1="488.48" x2="604.38" y2="493.01" stroke="#000" stroke-width="1.4" />
<line x1="601.58" y1="488.48" x2="607.17" y2="488.48" stroke="#000" stroke-width="1.4" />
<rect x="598.50" y="493.01" width="11.75" height="11.24" fill="url(#p4)" stroke="#000" stroke-width="1"/>
<line x1="634.12" y1="372.30" x2="634.12" y2="375.38" stroke="#000" stroke-width="1.4" />
<line x1="631.33" y1="372.30" x2="636.92" y2="372.30" stroke="#000" stroke-width="1.4" />
<rect x="628.25" y="375.38" width="11.75" height="128.87" fill="url(#p1)" stroke="#000" stroke-width="1"/>
<line x1="645.88" y1="494.28" x2="645.88" y2="497.73" stroke="#000" stroke-width="1.4" />
<line x1="643.08" y1="494.28" x2="648.67" y2="494.28" stroke="#000" stroke-width="1.4" />
<rect x="640.00" y="497.73" width="11.75" height="6.53" fill="url(#p2)" stroke="#000" stroke-width="1"/>
<line x1="657.62" y1="497.36" x2="657.62" y2="498.45" stroke="#000" stroke-width="1.4" />
<line x1="654.83" y1="497.36" x2="660.42" y2="497.36" stroke="#000" stroke-width="1.4" />
<rect x="651.75" y="498.45" width="11.75" height="5.80" fill="url(#p3)" stroke="#000" stroke-width="1"/>
<rect x="663.50" y="502.44" width="11.75" height="1.81" fill="url(#p4)" stroke="#000" stroke-width="1"/>
<rect x="690.8" y="398.5" width="5.0" height="5.0" fill="url(#p1)" stroke="#000" stroke-width="0.9"/>
<text transform="translate(698.2 404.5) scale(0.95 1)" font-size="11.3" text-anchor="start">DMSO</text>
<rect x="690.8" y="416.7" width="5.0" height="5.0" fill="url(#p2)" stroke="#000" stroke-width="0.9"/>
<text transform="translate(698.2 422.7) scale(0.95 1)" font-size="11.3" text-anchor="start">10</text>
<rect x="690.8" y="434.4" width="5.0" height="5.0" fill="url(#p3)" stroke="#000" stroke-width="0.9"/>
<text transform="translate(698.2 440.4) scale(0.95 1)" font-size="11.3" text-anchor="start">25</text>
<rect x="690.8" y="452.3" width="5.0" height="5.0" fill="url(#p4)" stroke="#000" stroke-width="0.9"/>
<text transform="translate(698.2 458.3) scale(0.95 1)" font-size="11.3" text-anchor="start">50</text>
<text transform="translate(392.9 405.4) rotate(-90)" font-size="12.9" text-anchor="middle" textLength="96.4" lengthAdjust="spacingAndGlyphs">Cell Viability (%)</text>
<text x="568" y="543.0" font-size="12.6" text-anchor="middle" textLength="97.5" lengthAdjust="spacingAndGlyphs">Days after culture</text>
<text transform="translate(676.6 367.6) scale(0.95 1)" font-size="13.2" text-anchor="start">Bortezomib</text>
<text transform="translate(707.5 383.1) scale(0.95 1)" font-size="13.2" text-anchor="middle"><tspan font-size="10.5" dy="-0.6">（</tspan><tspan dy="0.6">nM</tspan><tspan font-size="10.5" dy="-0.6">）</tspan></text>
</svg>
</body></html>
